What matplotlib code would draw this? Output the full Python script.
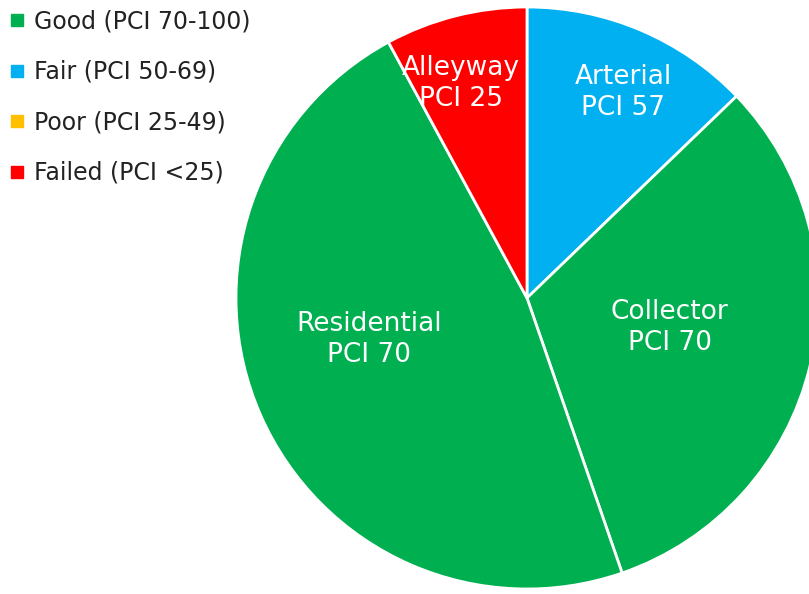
import numpy as np
import matplotlib.pyplot as plt
from matplotlib.lines import Line2D

# road classes, share of network (percent) and PCI
classes = ['Arterial', 'Collector', 'Residential', 'Alleyway']
shares = [12.8, 31.9, 47.4, 7.9]
pci = [57, 70, 70, 25]
slice_colors = ['#00B0F0', '#00B050', '#00B050', '#FF0000']

legend_labels = ['Good (PCI 70-100)', 'Fair (PCI 50-69)', 'Poor (PCI 25-49)', 'Failed (PCI <25)']
legend_colors = ['#00B050', '#00B0F0', '#FFC000', '#FF0000']

# where each label sits along its wedge (fraction of radius, angle shift)
label_r = [0.78, 0.50, 0.56, 0.77]
label_dang = [-2, 2, -9, 3]

fig = plt.figure(figsize=(8.09, 5.94), dpi=100)
W, H = 809, 594
cx, cy, r = 527, 298, 291
ax = fig.add_axes([(cx - r) / W, (H - cy - r) / H, 2 * r / W, 2 * r / H])

wedges, _ = ax.pie(shares, colors=slice_colors, startangle=90, counterclock=False,
                   wedgeprops=dict(edgecolor='white', linewidth=2))
for w in wedges:
    w.set_clip_on(False)
ax.set_xlim(-1, 1)
ax.set_ylim(-1, 1)
ax.set_aspect('equal')
ax.axis('off')

for w, name, p, lr, da in zip(wedges, classes, pci, label_r, label_dang):
    mid = np.deg2rad((w.theta1 + w.theta2) / 2 + da)
    ax.text(lr * np.cos(mid), lr * np.sin(mid), f'{name}\nPCI {p}', color='white',
            fontsize=19, ha='center', va='center', linespacing=1.25)

handles = [Line2D([], [], marker='s', linestyle='none', markersize=8, color=c) for c in legend_colors]
fig.legend(handles, legend_labels, loc='upper left', bbox_to_anchor=(0.0, 1.0),
           frameon=False, fontsize=17, labelspacing=1.12, handlelength=0.6,
           handletextpad=0.45, borderaxespad=0.3, borderpad=0.1, labelcolor='#222222')

fig.savefig('out.png', dpi=100)
